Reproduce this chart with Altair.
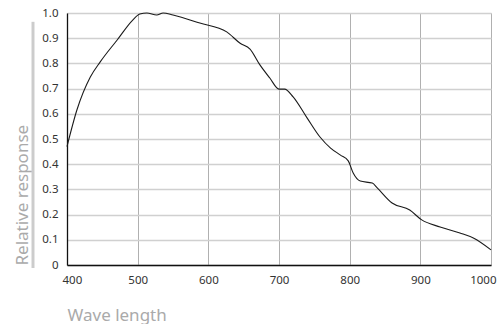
import altair as alt
import pandas as pd

wavelength = [400, 414, 433, 447, 471, 493, 503, 513, 527, 536, 550, 588, 626, 645, 659, 673, 687, 700,
              708, 720, 739, 758, 773, 787, 798, 805, 815, 832, 839, 860, 885, 902, 928, 956, 975, 1000]
response = [0.47, 0.615, 0.746, 0.806, 0.893, 0.972, 0.996, 1.0, 0.992, 1.0, 0.992, 0.96, 0.925, 0.88,
            0.857, 0.794, 0.742, 0.698, 0.698, 0.667, 0.587, 0.508, 0.464, 0.436, 0.413, 0.365, 0.333,
            0.325, 0.306, 0.246, 0.218, 0.179, 0.151, 0.127, 0.107, 0.06]

x_ticks = [400, 500, 600, 700, 800, 900, 1000]
y_ticks = [0, 0.1, 0.2, 0.3, 0.4, 0.5, 0.6, 0.7, 0.8, 0.9, 1.0]

df = pd.DataFrame({"wl": wavelength, "r": response})
FONT = "Noto Sans"

x_scale = alt.Scale(domain=[400, 1000], nice=False, zero=False)
y_scale = alt.Scale(domain=[0, 1], nice=False)

y_axis = alt.Axis(values=y_ticks, title="Relative response", grid=True, gridColor="#d0d0d0",
                  gridWidth=1.5, domainColor="#111", domainWidth=1.3, ticks=False,
                  labelPadding=9, labelFontSize=11.5, labelColor="#333", labelFont=FONT,
                  labelOverlap=False,
                  labelExpr="datum.value == 0 ? '0' : format(datum.value, '.1f')",
                  titleFont=FONT, titleFontSize=17, titleFontWeight="normal", titleColor="#aaaaaa",
                  titleAngle=-90, titleX=-40, titleY=252, titleAlign="left",
                  titleBaseline="alphabetic")

line = alt.Chart(df).mark_line(color="#1a1a1a", strokeWidth=1.1, interpolate="monotone").encode(
    x=alt.X("wl:Q", scale=x_scale,
            axis=alt.Axis(values=x_ticks, title="Wave length", grid=True, gridColor="#b0b0b0",
                          gridWidth=1, domainColor="#111", domainWidth=1.3, ticks=False,
                          labelPadding=9, labelFontSize=11.5, labelColor="#333", labelFont=FONT,
                          labelFlush=True, labelFlushOffset=5, labelOverlap=False, format="d",
                          titleFont=FONT, titleFontSize=17, titleFontWeight="normal", titleColor="#aaaaaa",
                          titleX=0, titleY=55, titleAlign="left", titleBaseline="alphabetic")),
    y=alt.Y("r:Q", scale=y_scale, axis=y_axis),
)

bar = alt.Chart(pd.DataFrame({"a": [0]})).mark_rule(color="#cccccc", strokeWidth=3).encode(
    x=alt.value(-34),
    y=alt.datum(-0.012, scale=y_scale, axis=y_axis),
    y2=alt.datum(0.965),
)

chart = alt.layer(line, bar).properties(
    width=424, height=252,
    padding={"left": 67, "top": 13, "right": 12, "bottom": 59},
    autosize=alt.AutoSizeParams(type="none"),
).configure_view(stroke="#333", strokeWidth=1.3).configure(background="white")

chart.save("out.html", embed_options={"renderer": "svg", "actions": False})
